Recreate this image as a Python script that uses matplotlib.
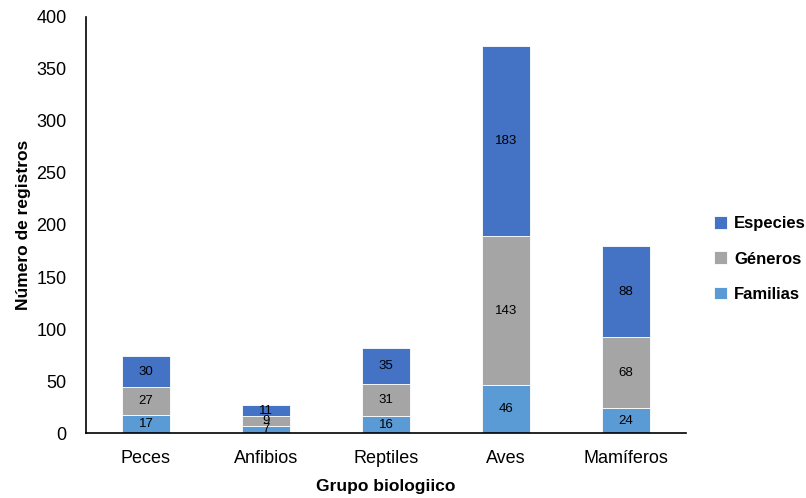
import matplotlib
matplotlib.use("Agg")
import matplotlib.pyplot as plt
import numpy as np

categories = ["Peces", "Anfibios", "Reptiles", "Aves", "Mamíferos"]
familias = [17, 7, 16, 46, 24]
generos = [27, 9, 31, 143, 68]
especies = [30, 11, 35, 183, 88]

plt.rcParams["font.family"] = ["Liberation Sans", "DejaVu Sans"]

fig = plt.figure(figsize=(8.06, 4.98), dpi=100)
ax = fig.add_axes([0.1067, 0.1305, 0.7444, 0.8354])

x = np.arange(len(categories))
w = 0.4
c_fam, c_gen, c_esp = "#5B9BD5", "#A5A5A5", "#4472C4"

b1 = ax.bar(x, familias, w, color=c_fam, edgecolor="white", linewidth=0.6, label="Familias")
b2 = ax.bar(x, generos, w, bottom=familias, color=c_gen, edgecolor="white", linewidth=0.6, label="Géneros")
bottom3 = np.array(familias) + np.array(generos)
b3 = ax.bar(x, especies, w, bottom=bottom3, color=c_esp, edgecolor="white", linewidth=0.6, label="Especies")

for bars in (b1, b2, b3):
    ax.bar_label(bars, label_type="center", fontsize=9.5, color="black")

ax.set_xlim(-0.5, len(categories) - 0.5)
ax.set_ylim(0, 400)
ax.set_yticks(range(0, 401, 50))
ax.set_xticks(x)
ax.set_xticklabels(categories)
ax.tick_params(axis="both", length=0, labelsize=13, colors="black")
ax.tick_params(axis="y", pad=14)
ax.tick_params(axis="x", pad=12)

for s in ("top", "right"):
    ax.spines[s].set_visible(False)
for s in ("left", "bottom"):
    ax.spines[s].set_color("black")
    ax.spines[s].set_linewidth(1.2)

ax.set_ylabel("Número de registros", fontsize=12.5, fontweight="bold", labelpad=4)
ax.set_xlabel("Grupo biologiico", fontsize=12.5, fontweight="bold", labelpad=9)

handles = [b3, b2, b1]
leg = fig.legend(handles, ["Especies", "Géneros", "Familias"],
                 loc="center left", bbox_to_anchor=(0.886, 0.48),
                 frameon=False, prop={"size": 12, "weight": "bold"},
                 handlelength=0.8, handleheight=0.8, handletextpad=0.4,
                 labelspacing=1.2, borderaxespad=0, borderpad=0)

fig.savefig("out.png", dpi=100)
